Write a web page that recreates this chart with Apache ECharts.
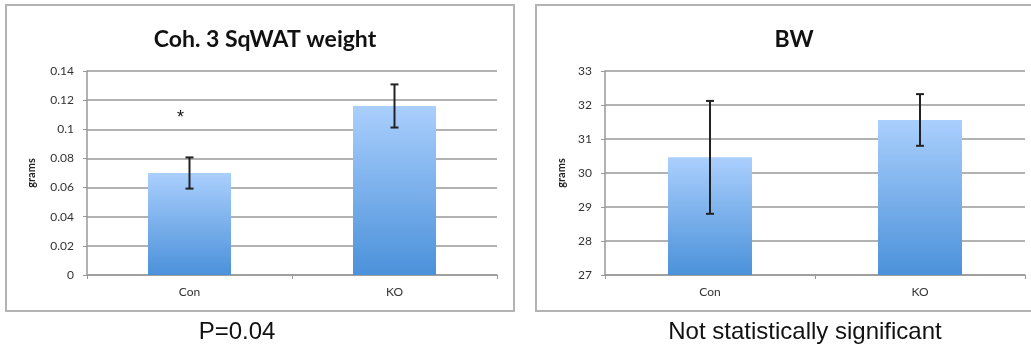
<!DOCTYPE html>
<html>
<head>
<meta charset="utf-8">
<script src="https://cdn.jsdelivr.net/npm/echarts@6/dist/echarts.min.js"></script>
<style>
  html, body { margin: 0; padding: 0; background: #fff; }
  #chart { width: 1031px; height: 350px; }
</style>
</head>
<body>
<div id="chart"></div>
<script>
// data
const categories = ["Con", "KO"];
const sqwatMeans = [0.07, 0.116];
const sqwatErr = [0.0107, 0.0148];
const bwMeans = [30.46, 31.56];
const bwErr = [1.66, 0.76];
const sqwatTicks = [0, 0.14, 0.02];   // min, max, interval
const bwTicks = [27, 33, 1];

const font = "Lato, 'Open Sans', sans-serif";
const barGradient = new echarts.graphic.LinearGradient(0, 0, 0, 1, [
  { offset: 0, color: "#aacffd" },
  { offset: 1, color: "#4b91da" },
]);

function errorSeries(axisIdx, means, errs) {
  return {
    type: "custom",
    xAxisIndex: axisIdx,
    yAxisIndex: axisIdx,
    z: 5,
    data: means.map((m, i) => [i, m - errs[i], m + errs[i]]),
    renderItem(params, api) {
      const lo = api.coord([api.value(0), api.value(1)]);
      const hi = api.coord([api.value(0), api.value(2)]);
      const w = 4;
      const style = { stroke: "#222", lineWidth: 2 };
      return {
        type: "group",
        children: [
          { type: "line", shape: { x1: hi[0], y1: hi[1], x2: lo[0], y2: lo[1] }, style },
          { type: "line", shape: { x1: hi[0] - w, y1: hi[1], x2: hi[0] + w, y2: hi[1] }, style },
          { type: "line", shape: { x1: lo[0] - w, y1: lo[1], x2: lo[0] + w, y2: lo[1] }, style },
        ],
      };
    },
  };
}

function xAxis(idx) {
  return {
    type: "category",
    gridIndex: idx,
    data: categories,
    axisLine: { lineStyle: { color: "#999", width: 1.5 } },
    axisTick: { show: true, length: 4, lineStyle: { color: "#999" } },
    axisLabel: { color: "#333", fontFamily: font, fontSize: 12, margin: 11 },
  };
}

function yAxis(idx, ticks, gap) {
  return {
    type: "value",
    gridIndex: idx,
    min: ticks[0],
    max: ticks[1],
    interval: ticks[2],
    name: "grams",
    nameLocation: "middle",
    nameGap: gap,
    nameTextStyle: { color: "#222", fontFamily: font, fontSize: 11, fontWeight: "bold" },
    axisLine: { show: true, lineStyle: { color: "#999", width: 1.5 } },
    axisTick: { show: true, length: 4, lineStyle: { color: "#999" } },
    splitLine: { lineStyle: { color: "#999", width: 1.5 } },
    axisLabel: { color: "#333", fontFamily: font, fontSize: 12, margin: 13 },
  };
}

const chart = echarts.init(document.getElementById("chart"));
chart.setOption({
  animation: false,
  title: [
    { text: "Coh. 3 SqWAT weight", left: 260, top: 23, textAlign: "center",
      textStyle: { fontFamily: font, fontSize: 23, fontWeight: "bold", color: "#111" } },
    { text: "BW", left: 789, top: 23, textAlign: "center",
      textStyle: { fontFamily: font, fontSize: 23, fontWeight: "bold", color: "#111" } },
  ],
  grid: [
    { left: 87, top: 71, width: 410, height: 204 },
    { left: 605, top: 71, width: 420, height: 204 },
  ],
  xAxis: [xAxis(0), xAxis(1)],
  yAxis: [yAxis(0, sqwatTicks, 50), yAxis(1, bwTicks, 38)],
  series: [
    {
      type: "bar", xAxisIndex: 0, yAxisIndex: 0, barWidth: 83,
      itemStyle: { color: barGradient },
      data: sqwatMeans,
      markPoint: {
        symbolSize: 0,
        data: [{ coord: ["Con", 0.11], value: "*" }],
        label: { show: true, formatter: "*", color: "#111", fontSize: 18, offset: [-9, 3] },
      },
    },
    errorSeries(0, sqwatMeans, sqwatErr),
    {
      type: "bar", xAxisIndex: 1, yAxisIndex: 1, barWidth: 84,
      itemStyle: { color: barGradient },
      data: bwMeans,
    },
    errorSeries(1, bwMeans, bwErr),
  ],
  graphic: [
    { type: "rect", shape: { x: 6, y: 5, width: 508, height: 306 },
      style: { fill: "none", stroke: "#b3b3b3", lineWidth: 2 } },
    { type: "rect", shape: { x: 536, y: 5, width: 500, height: 306 },
      style: { fill: "none", stroke: "#b3b3b3", lineWidth: 2 } },
    { type: "text", x: 237, y: 332,
      style: { text: "P=0.04", fontFamily: "'Liberation Sans', Arial, sans-serif", fontSize: 24,
               fill: "#111", align: "center", verticalAlign: "middle" } },
    { type: "text", x: 805, y: 332,
      style: { text: "Not statistically significant", fontFamily: "'Liberation Sans', Arial, sans-serif",
               fontSize: 24, fill: "#111", align: "center", verticalAlign: "middle" } },
  ],
});
</script>
</body>
</html>
